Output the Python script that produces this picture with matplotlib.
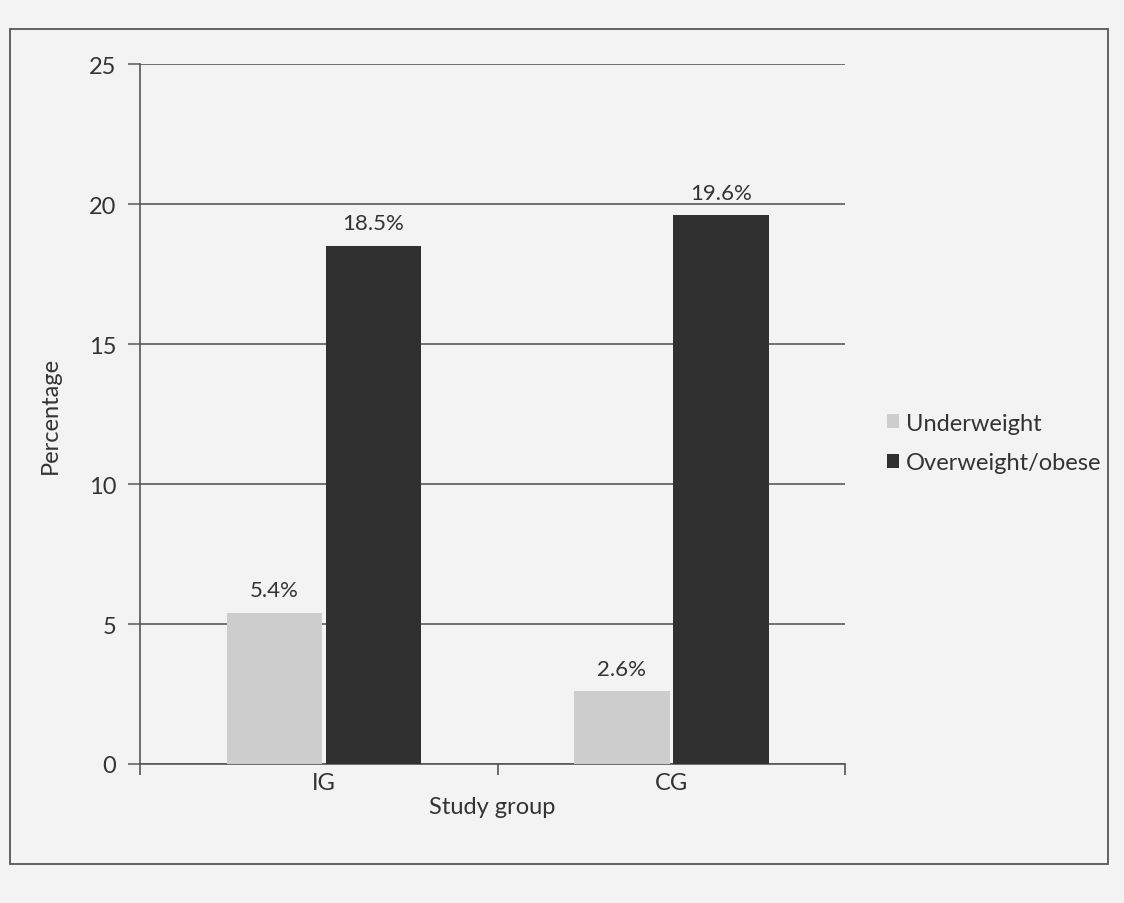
import matplotlib
matplotlib.use("Agg")
import matplotlib.pyplot as plt
from matplotlib.patches import Rectangle
import numpy as np

# Prevalence of weight categories by study group (%)
groups = ["IG", "CG"]
series_names = ["Underweight", "Overweight/obese"]
underweight = [5.4, 2.6]
overweight = [18.5, 19.6]
y_ticks = [0, 5, 10, 15, 20, 25]

plt.rcParams["font.family"] = ["Lato", "DejaVu Sans"]

W, H = 1124, 904
fig = plt.figure(figsize=(W / 100, H / 100), dpi=100, facecolor="#f3f3f3")

# plot area in pixel terms
left_px, right_px, top_px, bot_px = 140, 845, 65, 765
ax = fig.add_axes([left_px / W, 1 - bot_px / H,
                   (right_px - left_px) / W, (bot_px - top_px) / H])
ax.set_facecolor("none")

x = np.arange(len(groups))
bw = 0.275
uw_color = "#cdcdcd"
ow_color = "#303030"

b1 = ax.bar(x - bw / 2 - 0.005, underweight, width=bw, color=uw_color,
            label=series_names[0], zorder=3)
b2 = ax.bar(x + bw / 2 + 0.005, overweight, width=bw, color=ow_color,
            label=series_names[1], zorder=3)

for bars, vals in ((b1, underweight), (b2, overweight)):
    for rect, v in zip(bars, vals):
        ax.text(rect.get_x() + rect.get_width() / 2, v + 0.45, f"{v}%",
                ha="center", va="bottom", fontsize=16, color="#333333")

ax.set_xlim(-0.53, 1.5)
ax.set_ylim(0, 25)
ax.set_yticks(y_ticks)
ax.set_yticklabels([str(t) for t in y_ticks], fontsize=17, color="#333333")
ax.yaxis.grid(True, color="#707070", linewidth=1.4, zorder=0)
ax.tick_params(axis="y", length=9, width=1.3, color="#707070", pad=8)

# category labels centred under groups, tick marks between categories
ax.set_xticks(x)
ax.set_xticklabels(groups, fontsize=17, color="#333333")
ax.tick_params(axis="x", which="major", length=0, pad=6)
ax.set_xticks([-0.53, 0.5, 1.5], minor=True)
ax.tick_params(axis="x", which="minor", length=8, width=1.2, color="#555555")

for side in ("top", "right"):
    ax.spines[side].set_visible(False)
ax.spines["left"].set_color("#555555")
ax.spines["bottom"].set_color("#555555")
ax.spines["left"].set_linewidth(1.2)
ax.spines["bottom"].set_linewidth(1.2)

ax.set_ylabel("Percentage", fontsize=17, color="#333333", labelpad=20)
ax.set_xlabel("Study group", fontsize=17, color="#333333", labelpad=2)

leg = fig.legend(handles=[b1, b2], labels=series_names,
                 loc="center left", bbox_to_anchor=(866 / W, 1 - 444 / H),
                 frameon=False, fontsize=17, handlelength=0.5,
                 handleheight=0.5, handletextpad=0.3, labelspacing=0.8)
for t in leg.get_texts():
    t.set_color("#333333")

# chart border
fig.add_artist(Rectangle((10 / W, 1 - 865 / H), 1098 / W, 835 / H,
                         transform=fig.transFigure, fill=False,
                         edgecolor="#555555", linewidth=1.3))

fig.savefig("out.png", dpi=100, facecolor=fig.get_facecolor())
